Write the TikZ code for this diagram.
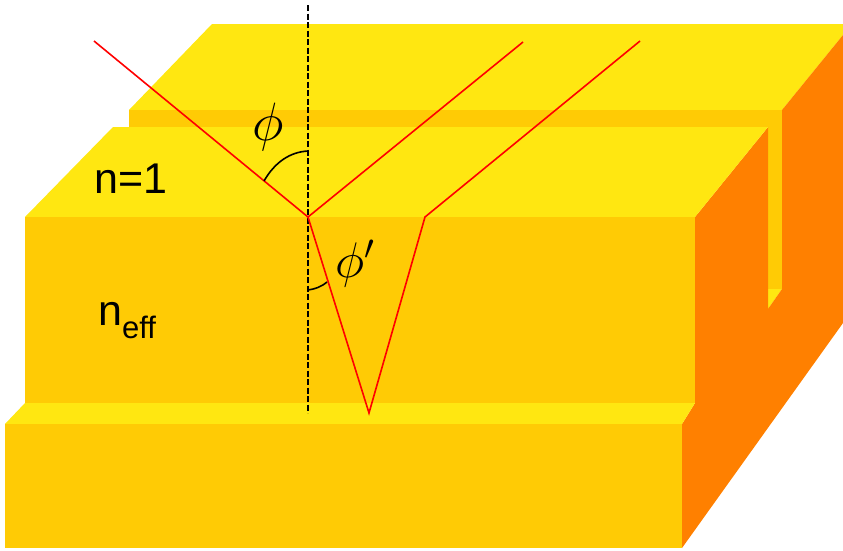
\documentclass[tikz,border=0pt]{standalone}
\usepackage{fix-cm}
\usepackage{amsmath}
\usepackage{fontspec}
\usepackage{xcolor}
\usepackage{tikz}
\usetikzlibrary{positioning,calc}
\newfontfamily\labelfont{Liberation Sans}
\definecolor{topyellow}{HTML}{FFE711}
\definecolor{frontamber}{HTML}{FFCB05}
\definecolor{sideorange}{HTML}{FF8000}

\begin{document}
\begin{tikzpicture}[
  x=1pt, y=-1pt,
  top/.style={fill=topyellow},
  front/.style={fill=frontamber},
  side/.style={fill=sideorange},
  ray/.style={draw=red, line width=1.6pt, line join=miter},
  normal/.style={draw=black, line width=1.6pt, dash pattern=on 6pt off 2.5pt},
  anglearc/.style={draw=black, line width=1.6pt},
  txt/.style={inner sep=0pt, anchor=base west, font=\labelfont\fontsize{43}{47}\selectfont}
]
  \useasboundingbox (0,0) rectangle (843,550);

  % Back block
  \path[top] (212,24) -- (843,24) -- (843,35) -- (782,110) -- (129,110) -- cycle;
  \path[front] (129,110) -- (782,110) -- (782,289) -- (768,289) -- (768,127) -- (129,127) -- cycle;
  \path[top] (768,289) -- (782,289) -- (768,309) -- cycle;

  % Side
  \path[side] (782,110) -- (843,35) -- (843,323) -- (682,548) -- (682,424)
    -- (695,403) -- (695,217) -- (768,127) -- (768,309) -- (782,289) -- cycle;

  % Ridge
  \path[top] (113,127) -- (768,127) -- (695,217) -- (25,217) -- cycle;
  \path[front] (25,217) rectangle (695,403);

  % Substrate
  \path[top] (25,403) -- (695,403) -- (682,424) -- (5,424) -- cycle;
  \path[front] (5,424) rectangle (682,548);

  % Points of the rays
  \coordinate (in) at (94,41);
  \coordinate (hit) at (308,217);
  \coordinate (out1) at (523,42);
  \coordinate (low) at (369,413);
  \coordinate (exit) at (425,217);
  \coordinate (out2) at (640,41);
  \coordinate (normtop) at (308,5);
  \coordinate (normbot) at (308,413);

  % Normal and rays
  \draw[normal] (normtop) -- (normbot);
  \draw[ray] (in) -- (hit) -- (out1);
  \draw[ray] (hit) -- (low) -- (exit) -- (out2);

  % Angles
  \coordinate (arcastart) at (264,181);
  \coordinate (arcaend) at (308,151);
  \coordinate (arcbstart) at (308,290);
  \coordinate (arcbend) at (327,282);
  \draw[anglearc] (arcastart) .. controls (275,162) and (290,152) .. (arcaend);
  \draw[anglearc] (arcbstart) .. controls (315,289) and (321,287) .. (arcbend);

  % Labels
  \node[font=\fontsize{54}{58}\selectfont, inner sep=0pt] (phi) at (268,127) {$\phi$};
  \node[font=\fontsize{50}{54}\selectfont, inner sep=0pt] (phiprime) at (355,264) {$\phi'$};
  \node[txt] (air) at (94,193) {n=1};
  \node[txt] (neff) at (98,325) {n\raisebox{-13pt}{\fontsize{31}{33}\selectfont eff}};
\end{tikzpicture}
\end{document}
